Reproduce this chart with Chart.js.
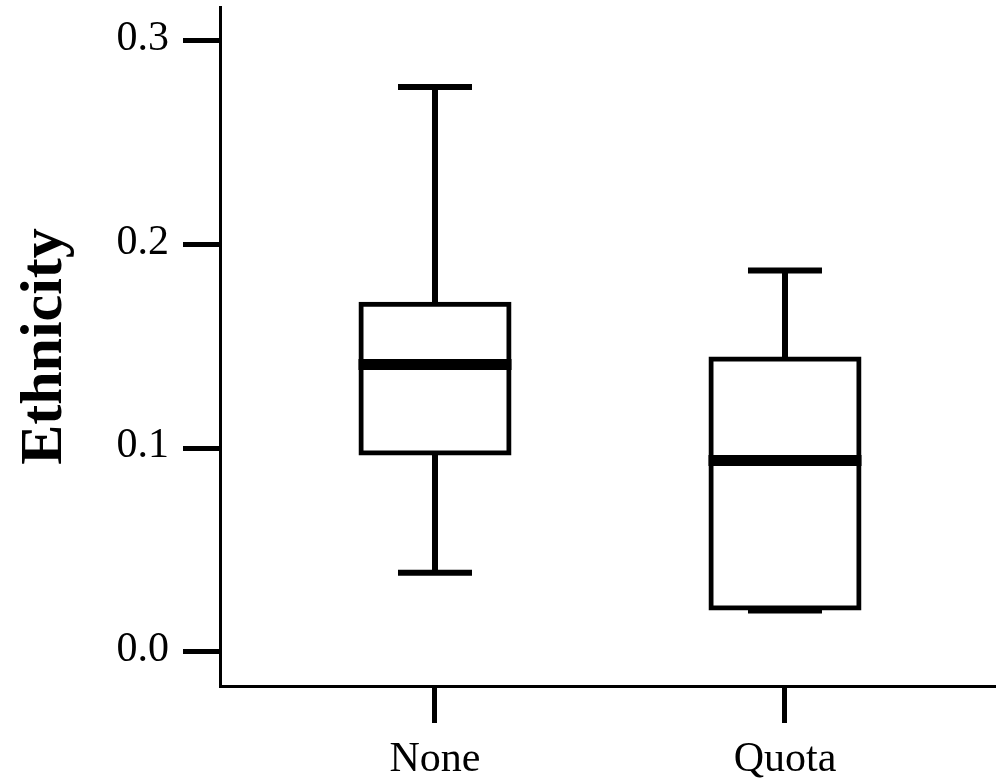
<!DOCTYPE html>
<html>
<head>
<meta charset="utf-8">
<title>Ethnicity by quota</title>
<script src="https://cdn.jsdelivr.net/npm/chart.js@4/dist/chart.umd.min.js"></script>
<style>
  html, body { margin: 0; padding: 0; background: #fff; }
  #wrap { width: 996px; height: 778px; }
</style>
</head>
<body>
<div id="wrap"><canvas id="chart" width="996" height="778"></canvas></div>
<script>
// box plot values (one entry per category)
const categories = ['None', 'Quota']
const minimums = [0.0389, 0.0204]
const lowerQuartiles = [0.0977, 0.0216]
const medians = [0.1411, 0.0940]
const upperQuartiles = [0.1708, 0.1438]
const maximums = [0.2774, 0.1873]
const yTicks = [0, 0.1, 0.2, 0.3]

const FONT = 'Liberation Serif, "Times New Roman", serif'

// whiskers, caps and medians, drawn through the chart scales
const boxWhiskers = {
  id: 'boxWhiskers',
  afterDatasetsDraw(chart){
    const {ctx, scales:{x, y}} = chart
    const line = (x1,y1,x2,y2)=>{ ctx.beginPath(); ctx.moveTo(x1,y1); ctx.lineTo(x2,y2); ctx.stroke() }
    ctx.save()
    ctx.strokeStyle = '#000'
    ctx.lineCap = 'butt'
    categories.forEach((c,i)=>{
      const px = x.getPixelForValue(i+1)
      const yMax = y.getPixelForValue(maximums[i]), yMin = y.getPixelForValue(minimums[i])
      ctx.lineWidth = 6
      line(px, y.getPixelForValue(upperQuartiles[i]), px, yMax)
      line(px, y.getPixelForValue(lowerQuartiles[i]), px, yMin)
      line(px-37, yMax, px+37, yMax)
      line(px-37, yMin, px+37, yMin)
      ctx.lineWidth = 11
      const ym = y.getPixelForValue(medians[i])
      line(px-76.5, ym, px+76.5, ym)
    })
    ctx.restore()
  }
}

// no automatic label padding: the axes keep the plot area fixed
const noPad = s => { s.paddingTop = 0; s.paddingBottom = 0; s.paddingLeft = 0; s.paddingRight = 0 }

new Chart(document.getElementById('chart').getContext('2d'), {
  type: 'bar',
  data: {
    datasets: [{
      data: categories.map((c,i)=>({x: i+1, y: [lowerQuartiles[i], upperQuartiles[i]]})),
      backgroundColor: '#fff',
      borderColor: '#000',
      borderWidth: 5,
      borderSkipped: false,
      inflateAmount: 2.5, // centres the box outline on the quartile values
      barThickness: 148
    }]
  },
  options: {
    responsive: false,
    animation: false,
    layout: { padding: { top: 7, right: 0, bottom: 0, left: 0 } },
    plugins: { legend: { display: false }, tooltip: { enabled: false } },
    scales: {
      x: {
        type: 'linear',
        min: 0.3857,
        max: 2.6029,
        offset: false,
        afterBuildTicks: s => { s.ticks = categories.map((c,i)=>({value: i+1})) },
        afterFit: s => { s.height = 92; noPad(s) },
        ticks: {
          callback: v => categories[Math.round(v)-1],
          font: { family: FONT, size: 42 },
          color: '#000',
          padding: 12,
          maxRotation: 0,
          autoSkip: false
        },
        grid: { drawOnChartArea: false, offset: false, tickLength: 37, tickWidth: 5, tickColor: '#000' },
        border: { color: '#000', width: 3 }
      },
      y: {
        min: -0.016694,
        max: 0.31669,
        afterBuildTicks: s => { s.ticks = yTicks.map(v=>({value: v})) },
        afterFit: s => { s.width = 220; noPad(s) },
        ticks: {
          callback: v => Number(v).toFixed(1),
          font: { family: FONT, size: 42 },
          color: '#000',
          padding: 14,
          labelOffset: -2
        },
        grid: { drawOnChartArea: false, tickLength: 37, tickWidth: 5, tickColor: '#000' },
        border: { color: '#000', width: 3 },
        title: {
          display: true,
          text: 'Ethnicity',
          font: { family: FONT, size: 60, weight: 'bold' },
          color: '#000',
          padding: { top: 9, bottom: 0 }
        }
      }
    }
  },
  plugins: [boxWhiskers]
})
</script>
</body>
</html>
